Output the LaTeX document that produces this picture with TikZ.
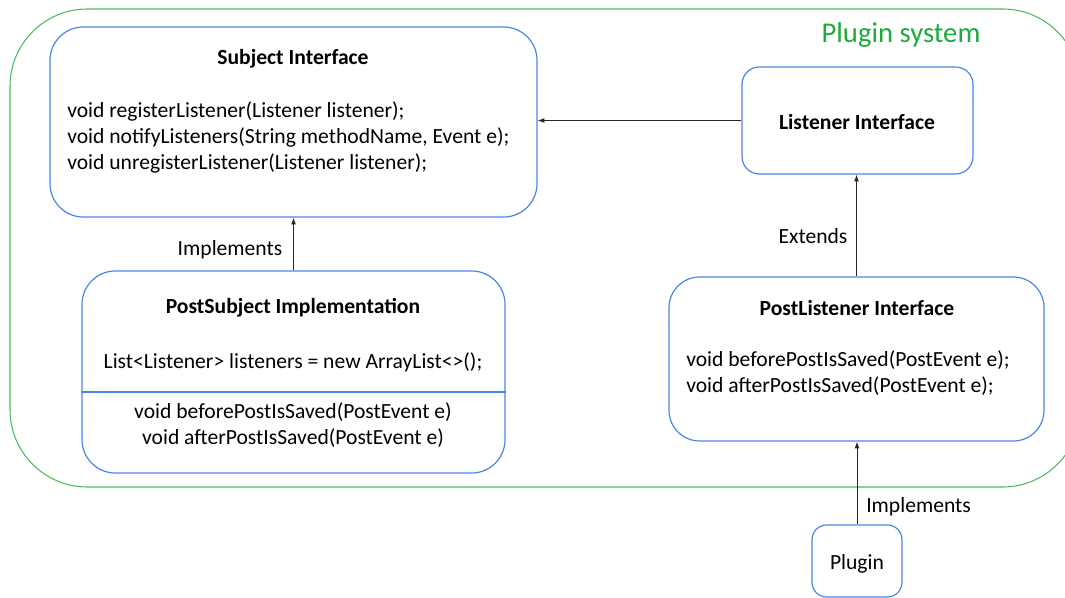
\documentclass[tikz,border=0pt]{standalone}
\usepackage{fontspec}
\setmainfont{Carlito}
\usetikzlibrary{arrows.meta,fit}
\definecolor{boxblue}{RGB}{74,134,232}
\definecolor{sysgreen}{RGB}{80,185,90}
\definecolor{sysgreentext}{RGB}{30,170,60}
\tikzset{
 box/.style={draw=boxblue, line width=0.9pt, fill=white, inner sep=0pt, rectangle},
 txt/.style={font=\fontsize{16.2}{19.5}\selectfont, inner sep=0pt},
 ttl/.style={font=\fontsize{16.2}{19.5}\selectfont\bfseries, inner sep=0pt},
 conn/.style={draw=black!85, line width=0.7pt, -{Latex[length=5pt,width=3.6pt]}},
}
\begin{document}
\begin{tikzpicture}[x=0.75pt,y=-0.75pt]
\useasboundingbox (0,0) rectangle (1065,598);
\begin{scope}
\clip (0,0) rectangle (1065,598);
\draw[sysgreen, line width=0.8pt, rounded corners=58pt] (10,9) rectangle (1080,487);
\end{scope}
\node[text=sysgreentext, font=\fontsize{21.5}{24}\selectfont, inner sep=0pt] (sys) at (901,35) {Plugin system};

% boxes
\node[box, rounded corners=25pt, fit={(50,27)(537,217)}] (subj) {};
\node[box, rounded corners=13pt, fit={(742,67)(973,174)}] (listener) {};
\node[box, rounded corners=25pt, fit={(82,271)(505,473)}] (postsubj) {};
\node[box, rounded corners=23pt, fit={(669,277)(1044,441)}] (postlis) {};
\node[box, rounded corners=11pt, fit={(812,525)(902,597)}] (plugin) {};
\draw[boxblue, line width=0.9pt] (postsubj.west |- 0,392) -- (postsubj.east |- 0,392);

% texts
\node[ttl] (subjT) at (293,59) {Subject Interface};
\node[txt, align=left, anchor=west] (subjM) at (67,137) {void registerListener(Listener listener);\\ void notifyListeners(String methodName, Event e);\\ void unregisterListener(Listener listener);};
\node[ttl] (listT) at (857,122) {Listener Interface};
\node[ttl] (psT) at (293,308) {PostSubject Implementation};
\node[txt] (psA) at (293,362) {List<Listener> listeners = new ArrayList<>();};
\node[txt, align=center] (psM) at (293,425) {void beforePostIsSaved(PostEvent e)\\ void afterPostIsSaved(PostEvent e)};
\node[ttl] (plT) at (857,308) {PostListener Interface};
\node[txt, align=left, anchor=west] (plM) at (686,373) {void beforePostIsSaved(PostEvent e);\\ void afterPostIsSaved(PostEvent e);};
\node[txt] (plugT) at (857,564) {Plugin};

% connectors
\draw[conn] (listener.west) -- (listener.west -| subj.east);
\draw[conn] (postsubj.north) -- (subj.south);
\draw[conn] (postlis.north) -- (postlis.north |- listener.south);
\draw[conn] (plugin.north) -- (plugin.north |- postlis.south);

% labels
\node[txt] (implA) at (230,250) {Implements};
\node[txt] (extA) at (813,236) {Extends};
\node[txt, anchor=west] (implB) at (866,507) {Implements};
\end{tikzpicture}
\end{document}
